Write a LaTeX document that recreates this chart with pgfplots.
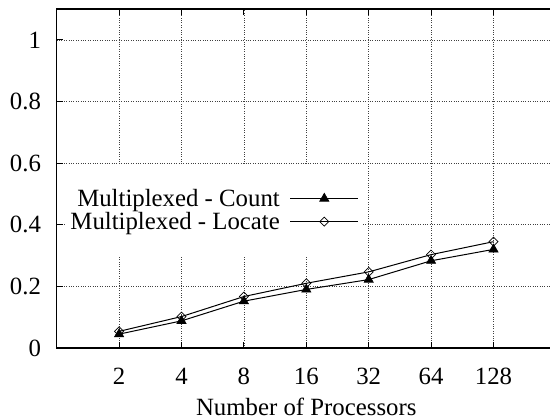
\documentclass[border=0pt]{standalone}
\usepackage{fontspec}
\setmainfont{Liberation Serif}
\usepackage{pgfplots}
\pgfplotsset{compat=1.18}
\begin{document}
\begin{tikzpicture}
\begin{axis}[
  scale only axis, width=499.2bp, height=339bp,
  xmin=-1, xmax=7, ymin=0, ymax=1.1,
  xtick={0,1,2,3,4,5,6}, xticklabels={2,4,8,16,32,64,128},
  ytick={0,0.2,0.4,0.6,0.8,1},
  yticklabels={0,0.2,0.4,0.6,0.8,1},
  tick align=inside, major tick length=6bp,
  tick style={black, line width=0.8bp},
  axis line style={black, line width=1.2bp},
  grid=major,
  grid style={dotted, black!75, line width=0.6bp},
  tick label style={font=\fontsize{24.8bp}{28bp}\selectfont, inner sep=0pt},
  yticklabel style={anchor=east, xshift=-15.5bp},
  xticklabel style={anchor=base, yshift=-36bp},
  xlabel={Number of Processors},
  xlabel style={font=\fontsize{24.8bp}{28bp}\selectfont, inner sep=0pt, anchor=base, at={(axis description cs:0.5,0)}, yshift=-67bp},
  legend style={at={(0.6136,0.5398)}, anchor=north east, fill=white, draw=none,
    inner xsep=4bp, inner ysep=23bp, row sep=2.4bp, column sep=9bp,
    nodes={inner sep=1bp}, font=\fontsize{24.8bp}{28bp}\selectfont},
  legend cell align=right, legend plot pos=right,
  legend image code/.code={\draw[mark repeat=2,mark phase=2] plot coordinates {(0bp,0bp) (34bp,0bp) (68bp,0bp)};},
]
\addplot[black, line width=1bp, mark=triangle*, mark size=5.3bp, mark options={solid, fill=black, line width=0.6bp}]
  coordinates {(0,0.045) (1,0.088) (2,0.152) (3,0.190) (4,0.222) (5,0.283) (6,0.320)};
\addlegendentry{Multiplexed - Count}
\addplot[black, line width=1bp, mark=square, mark size=3.2bp, mark options={solid, fill=white, rotate=45, line width=0.7bp}]
  coordinates {(0,0.054) (1,0.102) (2,0.167) (3,0.210) (4,0.247) (5,0.303) (6,0.345)};
\addlegendentry{Multiplexed - Locate}
\end{axis}
\pgfresetboundingbox
\useasboundingbox (-56.7bp,-71bp) rectangle (493.3bp,348bp);
\end{tikzpicture}
\end{document}
